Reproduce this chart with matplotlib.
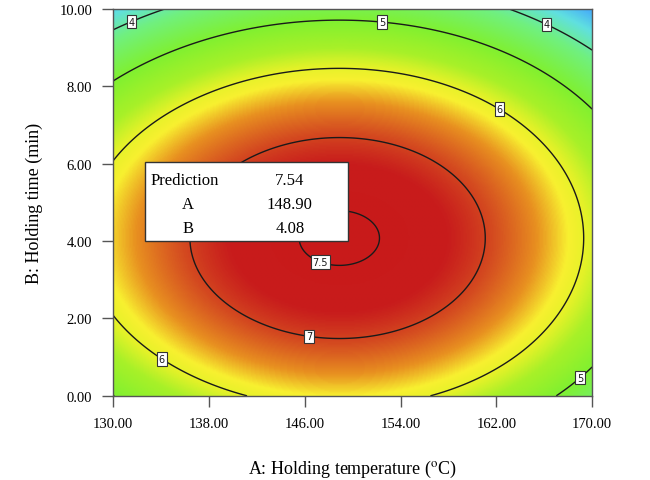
import numpy as np
import matplotlib
matplotlib.use("Agg")
import matplotlib.pyplot as plt
from matplotlib.colors import LinearSegmentedColormap
from matplotlib.patches import Rectangle

# fitted response surface
A_opt = 148.90
B_opt = 4.08
y_max = 7.54
c_AA = -0.003555
c_AAA = -7.26e-6
c_BB = -0.080

A_range = [130, 170]
B_range = [0, 10]
A_ticks = [130, 138, 146, 154, 162, 170]
B_ticks = [0, 2, 4, 6, 8, 10]
levels = [4, 5, 6, 7, 7.5]
label_pos = [(131.4, 9.79), (152.5, 9.84), (166.3, 9.69), (162.4, 7.49),
             (147.45, 3.59), (146.45, 1.7), (134.5, 1.16), (168.8, 0.54)]

# colour stops: value -> colour
c_vals = [3.0, 3.6, 4.2, 5.0, 5.6, 5.95, 6.2, 6.55, 6.95, 7.25, 7.6]
c_cols = ["#40a0ff", "#60e0e0", "#70f080", "#80f030", "#a8f028", "#e4f228",
          "#f8f030", "#e89020", "#d44a20", "#c81c1c", "#c81a1a"]

plt.rcParams['font.family'] = ['Liberation Serif', 'DejaVu Serif']
plt.rcParams['mathtext.fontset'] = 'stix'

A = np.linspace(A_range[0], A_range[1], 400)
B = np.linspace(B_range[0], B_range[1], 300)
AA, BB = np.meshgrid(A, B)
dA = AA - A_opt
dB = BB - B_opt
Z = y_max + c_AA*dA**2 + c_AAA*dA**3 + c_BB*dB**2

vmin, vmax = c_vals[0], c_vals[-1]
nodes = [(v - vmin)/(vmax - vmin) for v in c_vals]
cmap = LinearSegmentedColormap.from_list("de", list(zip(nodes, c_cols)))

fig = plt.figure(figsize=(6.5, 4.81), dpi=100)
ax = fig.add_axes([0.174, 0.175, 0.737, 0.804])

ax.imshow(Z, extent=[A_range[0], A_range[1], B_range[0], B_range[1]],
          origin='lower', aspect='auto', cmap=cmap, vmin=vmin, vmax=vmax,
          interpolation='bilinear')
cs = ax.contour(AA, BB, Z, levels=levels, colors='#1a1a1a', linewidths=1.0)
labels = ax.clabel(cs, fmt='%g', inline=False, fontsize=7, manual=label_pos)
for t in labels:
    t.set_rotation(0)
    t.set_family('DejaVu Sans')
    t.set_bbox(dict(facecolor='white', edgecolor='#333333', pad=1.2, lw=0.8))

ax.set_xlim(A_range)
ax.set_ylim(B_range)
ax.set_xticks(A_ticks)
ax.set_yticks(B_ticks)
ax.set_xticklabels(["%.2f" % v for v in A_ticks])
ax.set_yticklabels(["%.2f" % v for v in B_ticks])
ax.tick_params(direction='out', length=8, width=1, color='#555555',
               labelsize=10.5, pad=7)
for s in ax.spines.values():
    s.set_color('#555555')
    s.set_linewidth(1.0)

ax.set_xlabel(r'A: Holding temperature ($^{\rm o}$C)', fontsize=13, labelpad=20)
ax.set_ylabel('B: Holding time (min)', fontsize=13, labelpad=12)

# prediction flag
box = Rectangle((0.0668, 0.400), 0.4238, 0.204, transform=ax.transAxes,
                facecolor='white', edgecolor='#333333', lw=1.0, zorder=5)
ax.add_patch(box)
rows = [("Prediction", "%.2f" % y_max), ("A", "%.2f" % A_opt), ("B", "%.2f" % B_opt)]
row_y = [0.557, 0.495, 0.433]
for (name, val), yy in zip(rows, row_y):
    if name == "Prediction":
        ax.text(0.078, yy, name, transform=ax.transAxes, fontsize=12,
                ha='left', va='center', zorder=6)
    else:
        ax.text(0.156, yy, name, transform=ax.transAxes, fontsize=12,
                ha='center', va='center', zorder=6)
    ax.text(0.369, yy, val, transform=ax.transAxes, fontsize=12,
            ha='center', va='center', zorder=6)

fig.savefig("out.png", dpi=100)
